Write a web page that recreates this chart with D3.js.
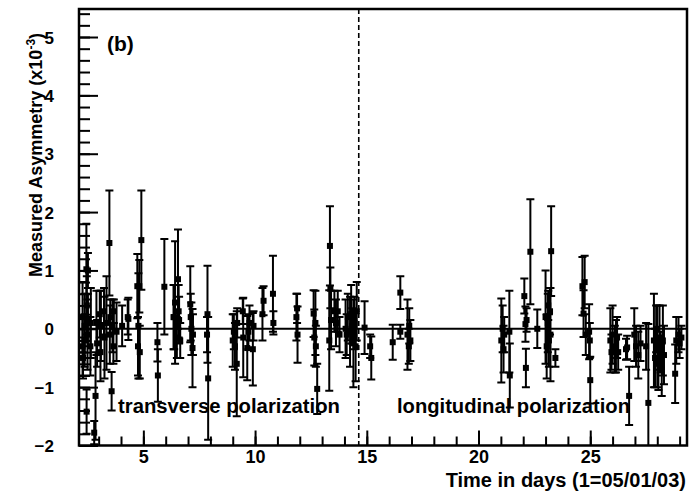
<!DOCTYPE html>
<html>
<head>
<meta charset="utf-8">
<script src="https://cdn.jsdelivr.net/npm/d3@7"></script>
<style>
  html, body { margin: 0; padding: 0; background: #fff; }
  svg { display: block; }
  text { font-family: "Liberation Sans", Arial, sans-serif; fill: #000; }
</style>
</head>
<body>
<svg id="chart" width="695" height="493"></svg>
<script>
// Measured asymmetry per run: day (1 = 05/01/03), asymmetry (x10^-3), statistical error
const days = [
  2.28, 2.28, 2.30, 2.37, 2.37, 2.45, 2.47, 2.46, 2.50, 2.52, 2.52, 2.63, 2.65, 2.86, 2.80,
  2.90, 2.93, 3.05, 3.08, 3.10, 3.26, 3.24, 3.35, 3.48, 3.50, 3.52, 3.58, 3.66, 3.62, 3.68,
  3.80, 4.05, 4.30, 4.33, 4.73, 4.82, 4.78, 4.76, 4.84, 4.91,
  5.63, 5.65, 5.94,
  6.35, 6.38, 6.42, 6.50, 6.55, 6.58, 6.60, 6.65,
  7.10, 7.15, 7.20, 7.12, 7.22, 7.87, 7.90, 7.85,
  9.00, 9.05, 9.10, 9.18, 9.20, 9.45, 9.47, 9.65, 9.70, 9.75, 9.90, 9.93,
  10.33, 10.38, 10.80, 10.82,
  11.85, 11.90, 11.88,
  12.62, 12.65, 12.70, 12.78, 12.72,
  13.35, 13.37, 13.32, 13.40, 13.55, 13.62, 13.70, 13.78,
  14.05, 14.10, 14.15, 14.25, 14.30, 14.35, 14.40, 14.45, 14.50, 14.55,
  14.90, 15.20, 15.15,
  16.16, 16.50, 16.50, 16.82, 16.88, 16.95, 16.90,
  21.02, 21.08, 21.12, 21.15, 21.38, 21.40,
  22.05, 22.10, 22.12, 22.15, 22.32, 22.63,
  23.00, 23.05, 23.10, 23.15, 23.20, 23.25, 23.22, 23.12, 23.44,
  24.65, 24.70, 24.75, 24.80, 24.95, 25.00, 24.98,
  25.90, 25.95, 26.00, 26.10, 26.15, 26.20, 26.25,
  26.60, 26.65, 26.74, 26.97, 27.05, 27.15, 27.25, 27.50, 27.60,
  27.85, 27.90, 27.95, 28.00, 28.05, 28.10, 28.15, 28.20, 28.25, 28.30,
  28.80, 28.85, 28.95, 29.00, 29.08
];
const asym = [
  0.20, -0.30, -0.50, 0.05, -0.20, 1.02, 0.40, -1.42, -0.10, 0.15, 1.00, -0.30, 0.10, -1.15, -1.78,
  0.10, -0.25, 0.25, -0.40, 0.05, -0.15, 0.30, 0.10, 1.47, -0.10, 0.20, -1.07, -0.30, 0.05, 0.30,
  -0.05, 0.05, 0.20, 0.17, 0.73, 0.73, 0.05, -0.30, -0.40, 1.52,
  -0.23, -0.80, 0.72,
  0.20, 0.20, 0.45, -0.15, 0.85, 0.30, 0.15, -0.20,
  0.42, 0.00, -0.33, 0.20, -0.10, 0.25, -0.85, -0.10,
  -0.20, -0.05, -0.30, -0.60, 0.10, 0.30, -0.15, -0.33, -0.05, 0.10, -0.35, 0.05,
  0.25, 0.48, 0.60, 0.10,
  0.20, -0.10, 0.35,
  0.26, -0.15, 0.10, -1.03, -0.30,
  1.42, 0.70, -0.20, 0.15, 0.30, 0.10, 0.30, -0.10,
  0.00, -0.10, 0.20, -0.05, 0.25, 0.05, -0.25, 0.10, -0.30, 0.30,
  0.02, -0.50, -0.30,
  -0.23, 0.62, -0.05, -0.10, -0.30, -0.20, 0.05,
  -0.20, 0.00, -0.35, -0.10, -0.05, -0.80,
  0.56, 0.08, -0.67, 0.15, 1.32, 0.00,
  0.20, -0.30, 0.10, -0.20, 0.30, 1.33, -0.10, 0.40, -0.50,
  0.73, 0.26, 0.80, -0.10, -0.05, -0.88, -0.20,
  -0.20, -0.40, -0.10, -0.35, -0.30, -0.15, -0.40,
  -0.35, -0.32, -1.15, -0.10, -0.30, -0.45, -0.25, -0.30, -1.27,
  -0.20, -0.50, 0.00, -0.30, -0.60, -0.15, -0.40, -0.70, -0.20, -0.45,
  -0.77, -0.20, -0.10, -0.25, -0.15
];
const errs = [
  0.60, 0.50, 0.35, 0.55, 0.45, 0.78, 0.50, 0.38, 0.60, 0.45, 0.30, 0.50, 0.60, 0.75, 0.20,
  0.55, 0.40, 0.40, 0.50, 0.60, 0.70, 0.40, 0.80, 0.90, 0.50, 0.30, 0.33, 0.30, 0.45, 0.20,
  0.50, 0.35, 0.30, 0.36, 0.55, 0.45, 0.90, 0.50, 0.45, 0.85,
  0.33, 0.45, 0.82,
  0.55, 0.55, 1.05, 0.35, 0.85, 0.45, 0.40, 0.30,
  0.65, 0.45, 0.67, 0.40, 0.35, 0.83, 1.05, 0.30,
  0.45, 0.30, 0.40, 0.90, 0.25, 0.22, 0.68, 0.55, 0.30, 0.30, 0.62, 0.25,
  0.45, 0.25, 0.65, 0.20,
  0.40, 0.48, 0.25,
  0.40, 0.48, 0.55, 0.43, 0.35,
  0.68, 0.35, 0.86, 0.50, 0.35, 0.40, 0.35, 0.30,
  0.50, 0.35, 0.40, 0.60, 0.50, 0.30, 0.75, 0.45, 0.60, 0.50,
  0.45, 0.37, 0.20,
  0.30, 0.28, 0.12, 0.60, 0.30, 0.35, 0.30,
  0.72, 0.40, 0.40, 0.30, 0.70, 0.55,
  0.30, 0.30, 0.33, 0.20, 0.90, 0.33,
  0.80, 0.55, 0.50, 0.45, 0.40, 0.77, 0.80, 0.25, 0.15,
  0.50, 0.40, 0.45, 0.35, 0.47, 0.40, 0.30,
  0.55, 0.30, 0.50, 0.40, 0.45, 0.35, 0.30,
  0.18, 0.20, 0.50, 0.45, 0.35, 0.40, 0.30, 0.40, 1.35,
  0.80, 0.50, 0.40, 0.70, 0.45, 0.55, 0.35, 0.45, 0.60, 0.50,
  0.50, 0.40, 0.30, 0.25, 0.20
];

const xMajorTicks = [5, 10, 15, 20, 25];
const xMinorTicks = d3.range(3, 30);
const yMajorTicks = [-2, -1, 0, 1, 2, 3, 4, 5];
const yMinorTicks = d3.range(-20, 55, 2).map(v => v / 10);
const xDomain = [2.12, 29.33];
const yDomain = [-2.0, 5.48];
const switchDay = 14.64;   // change from transverse to longitudinal polarization

(function draw() {
  const svg = d3.select("#chart");
  const pLeft = 79, pRight = 687, pTop = 9, pBottom = 445.5;

  const x = d3.scaleLinear().domain(xDomain).range([pLeft, pRight]);
  const y = d3.scaleLinear().domain(yDomain).range([pBottom, pTop]);

  svg.append("defs").append("clipPath").attr("id", "plotclip")
    .append("rect").attr("x", pLeft).attr("y", pTop)
    .attr("width", pRight - pLeft).attr("height", pBottom - pTop);

  // zero line
  svg.append("line")
    .attr("x1", pLeft).attr("x2", pRight)
    .attr("y1", y(0)).attr("y2", y(0))
    .attr("stroke", "#000").attr("stroke-width", 2);

  // polarization switch
  svg.append("line")
    .attr("x1", x(switchDay)).attr("x2", x(switchDay))
    .attr("y1", pTop).attr("y2", pBottom)
    .attr("stroke", "#000").attr("stroke-width", 1.6)
    .attr("stroke-dasharray", "5,3");

  // error bars and markers
  const pts = days.map((d, i) => ({ d, v: asym[i], e: errs[i] }));
  const g = svg.append("g").attr("clip-path", "url(#plotclip)");
  const capW = 4;
  const item = g.selectAll("g.pt").data(pts).join("g").attr("class", "pt");
  item.append("line")
    .attr("x1", p => x(p.d)).attr("x2", p => x(p.d))
    .attr("y1", p => y(p.v + p.e)).attr("y2", p => y(p.v - p.e))
    .attr("stroke", "#000").attr("stroke-width", 2);
  item.append("line")
    .attr("x1", p => x(p.d) - capW).attr("x2", p => x(p.d) + capW)
    .attr("y1", p => y(p.v + p.e)).attr("y2", p => y(p.v + p.e))
    .attr("stroke", "#000").attr("stroke-width", 2);
  item.append("line")
    .attr("x1", p => x(p.d) - capW).attr("x2", p => x(p.d) + capW)
    .attr("y1", p => y(p.v - p.e)).attr("y2", p => y(p.v - p.e))
    .attr("stroke", "#000").attr("stroke-width", 2);
  item.append("rect")
    .attr("x", p => x(p.d) - 3).attr("y", p => y(p.v) - 3)
    .attr("width", 6).attr("height", 6).attr("fill", "#000");

  // axes: ticks drawn inside the frame
  const axisStyle = size => sel => {
    sel.select(".domain").remove();
    sel.selectAll(".tick line").attr("stroke", "#000").attr("stroke-width", 2);
    sel.selectAll(".tick text")
      .style("font-family", "'Liberation Sans', Arial, sans-serif")
      .style("font-weight", "bold").style("font-size", size + "px").attr("fill", "#000");
  };

  svg.append("g").attr("transform", `translate(${pLeft},0)`)
    .call(d3.axisLeft(y).tickValues(yMinorTicks).tickSizeInner(-11).tickSizeOuter(0).tickFormat(""))
    .call(axisStyle(17));
  svg.append("g").attr("transform", `translate(${pLeft},0)`)
    .call(d3.axisLeft(y).tickValues(yMajorTicks).tickSizeInner(-19).tickSizeOuter(0).tickPadding(25).tickFormat(d3.format("d")))
    .call(axisStyle(17))
    .call(s => s.selectAll(".tick text").attr("dy", "0.36em"));

  svg.append("g").attr("transform", `translate(0,${pBottom})`)
    .call(d3.axisBottom(x).tickValues(xMinorTicks).tickSizeInner(-9).tickSizeOuter(0).tickFormat(""))
    .call(axisStyle(18));
  svg.append("g").attr("transform", `translate(0,${pBottom})`)
    .call(d3.axisBottom(x).tickValues(xMajorTicks).tickSizeInner(-15).tickSizeOuter(0).tickPadding(17).tickFormat(d3.format("d")))
    .call(axisStyle(18))
    .call(s => s.selectAll(".tick text").attr("dy", "0"));

  // frame
  svg.append("rect")
    .attr("x", pLeft).attr("y", pTop).attr("width", pRight - pLeft).attr("height", pBottom - pTop)
    .attr("fill", "none").attr("stroke", "#000").attr("stroke-width", 2.5);

  // labels
  svg.append("text").attr("x", 107).attr("y", 51)
    .style("font-weight", "bold").style("font-size", "21px").text("(b)");

  svg.append("text").attr("x", 118).attr("y", 413)
    .style("font-weight", "bold").style("font-size", "20px")
    .attr("textLength", 222).attr("lengthAdjust", "spacingAndGlyphs")
    .text("transverse polarization");
  svg.append("text").attr("x", 397).attr("y", 413)
    .style("font-weight", "bold").style("font-size", "20px")
    .attr("textLength", 233).attr("lengthAdjust", "spacingAndGlyphs")
    .text("longitudinal polarization");

  svg.append("text").attr("x", 686).attr("y", 487).attr("text-anchor", "end")
    .style("font-weight", "bold").style("font-size", "20px")
    .text("Time in days (1=05/01/03)");

  const yl = svg.append("text")
    .attr("transform", "translate(42,155) rotate(-90)")
    .attr("text-anchor", "middle")
    .style("font-weight", "bold").style("font-size", "18px");
  yl.append("tspan").text("Measured Asymmetry (x10");
  yl.append("tspan").attr("dy", -7).style("font-size", "12px").text("-3");
  yl.append("tspan").attr("dy", 7).text(")");
})();
</script>
</body>
</html>
